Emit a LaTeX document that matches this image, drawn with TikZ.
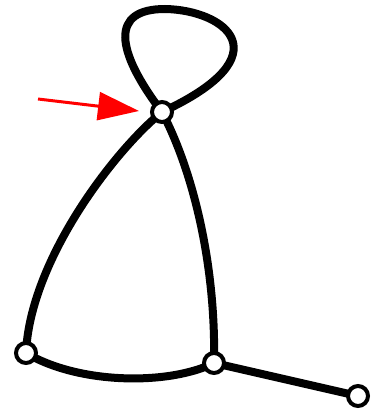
\documentclass[tikz,border=0pt]{standalone}
\usetikzlibrary{arrows.meta}
\begin{document}
\begin{tikzpicture}[x=1pt,y=-1pt,
  vert/.style={circle,draw=black,fill=white,line width=4pt,minimum size=20pt,inner sep=0pt},
  edge/.style={line width=8pt,black},
  pointer/.style={red,line width=3pt,-{Triangle[length=41pt,width=28pt]}}]
\useasboundingbox (0,0) rectangle (372,411);
\coordinate (t) at (162,112);
\coordinate (bl) at (26,353);
\coordinate (bm) at (214,363);
\coordinate (br) at (358,396);
\coordinate (as) at (38,99);
\coordinate (ae) at (139,111);
\draw[edge] (t) .. controls (115,50) and (110,9) .. (165,9) .. controls (225,10) and (285,55) .. (t);
\draw[edge] (t) .. controls (115,150) and (30,260) .. (bl);
\draw[edge] (t) .. controls (195,175) and (216,270) .. (bm);
\draw[edge] (bl) .. controls (80,385) and (170,385) .. (bm);
\draw[edge] (bm) -- (br);
\node[vert] (nt) at (t) {};
\node[vert] (nbl) at (bl) {};
\node[vert] (nbm) at (bm) {};
\node[vert] (nbr) at (br) {};
\draw[pointer] (as) -- (ae);
\end{tikzpicture}
\end{document}
